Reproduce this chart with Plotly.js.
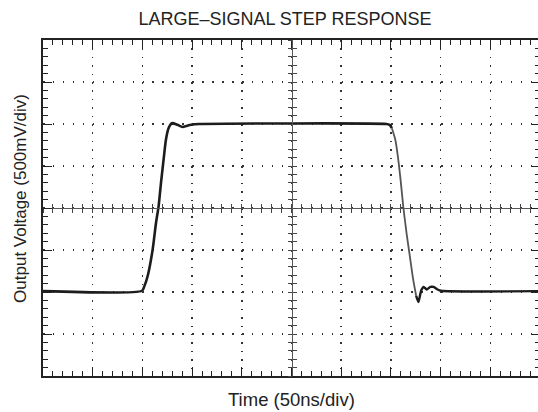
<!DOCTYPE html>
<html>
<head>
<meta charset="utf-8">
<script src="https://cdn.plot.ly/plotly-3.0.1.min.js"></script>
<style>
  html, body { margin: 0; padding: 0; overflow: hidden; background: #fff; }
  #chart { width: 548px; height: 412px; }
</style>
</head>
<body>
<div id="chart"></div>
<script>
// Time in ns (50 ns/div), output voltage in V (500 mV/div)
const timeNs = [0, 99.7, 102, 105.3, 110.3, 113.7, 116.3, 118.7, 121.3, 123.7, 126.3, 129.7, 135.3, 140.3, 145.3, 150.3, 157,
                345.4, 348.7, 351, 354.4, 357, 359.7, 362.4, 365.7, 369, 372.4, 375.4, 377.7, 380.4, 383, 386, 389.7, 393, 397, 400.4, 500];
const voltageV = [-0.99, -0.985, -0.93, -0.81, -0.495, -0.175, 0.02, 0.30, 0.575, 0.815, 0.95, 1.01, 0.99, 0.965, 0.98, 0.995, 1.0,
                  1.0, 0.99, 0.95, 0.815, 0.615, 0.34, 0.02, -0.295, -0.57, -0.85, -1.045, -1.12, -0.985, -0.94, -0.97, -0.94, -0.94, -0.97, -0.985, -0.99];

const titleText = "LARGE–SIGNAL STEP RESPONSE";
const xTitle = "Time (50ns/div)";
const yTitle = "Output Voltage (500mV/div)";

const xRange = [0, 500];
const yRange = [-2, 2];

const FONT = "Liberation Sans, Arial, Helvetica, sans-serif";
const INK = "#222222";

// the fast falling edge is drawn fainter, as on the scope
const fallStart = timeNs.indexOf(351);
const fallEnd = timeNs.indexOf(375.4);

const seg = (i0, i1, color, width) => ({
  x: timeNs.slice(i0, i1 + 1), y: voltageV.slice(i0, i1 + 1), type: "scatter", mode: "lines",
  line: { color: color, width: width, shape: "spline", smoothing: 0.6 },
  hoverinfo: "skip", showlegend: false
});
const traceA = seg(0, fallStart, "#1c1c1c", 2.6);
const traceB = seg(fallStart, fallEnd, "#555555", 1.8);
const traceC = seg(fallEnd, timeNs.length - 1, "#1c1c1c", 2.4);

const dummyX2 = { x: [], y: [], xaxis: "x2", yaxis: "y", type: "scatter", showlegend: false };
const dummyX3 = { x: [], y: [], xaxis: "x3", yaxis: "y", type: "scatter", showlegend: false };
const dummyY2 = { x: [], y: [], xaxis: "x", yaxis: "y2", type: "scatter", showlegend: false };
const dummyY3 = { x: [], y: [], xaxis: "x", yaxis: "y3", type: "scatter", showlegend: false };

const frameAxis = (range, dtick, minorDtick, gridDash) => ({
  range: range, dtick: dtick, tick0: range[0],
  showline: true, linecolor: INK, linewidth: 2, mirror: "ticks",
  ticks: "inside", ticklen: 9, tickwidth: 1, tickcolor: INK,
  minor: { dtick: minorDtick, tick0: range[0], ticks: "inside", ticklen: 5, tickwidth: 1, tickcolor: INK, showgrid: false },
  showgrid: true, gridcolor: "#333333", gridwidth: 1.5, griddash: gridDash,
  zeroline: false, showticklabels: false, fixedrange: true
});

const centerAxis = (base, range, dtick, minorDtick, tickDir) => ({
  overlaying: base, anchor: "free", position: 0.5, range: range, dtick: dtick, tick0: range[0],
  showline: true, linecolor: "#555555", linewidth: 1,
  ticks: tickDir, ticklen: 4, tickwidth: 1, tickcolor: "#444444",
  minor: { dtick: minorDtick, tick0: range[0], ticks: tickDir, ticklen: 4, tickwidth: 1, tickcolor: "#444444", showgrid: false },
  showgrid: false, zeroline: false, showticklabels: false, fixedrange: true
});

const layout = {
  width: 548, height: 412,
  margin: { l: 43, r: 8, t: 40, b: 36 },
  paper_bgcolor: "#ffffff", plot_bgcolor: "#ffffff",
  font: { family: FONT, color: INK, size: 17 },
  title: { text: titleText, font: { family: FONT, size: 18, color: INK },
           xref: "paper", x: 0.487, xanchor: "center", yref: "container", y: 0.955, yanchor: "middle" },
  xaxis: frameAxis(xRange, 50, 10, "1.5px,6.9px"),
  yaxis: frameAxis(yRange, 0.5, 0.1, "1.5px,8.45px"),
  xaxis2: centerAxis("x", xRange, 50, 10, "inside"),
  xaxis3: centerAxis("x", xRange, 50, 10, "outside"),
  yaxis2: centerAxis("y", yRange, 0.5, 0.1, "inside"),
  yaxis3: centerAxis("y", yRange, 0.5, 0.1, "outside"),
  annotations: [
    { text: xTitle, xref: "paper", yref: "paper", x: 0.5, y: -0.0714, xanchor: "center", yanchor: "middle",
      showarrow: false, font: { family: FONT, size: 18.5, color: INK } },
    { text: yTitle, xref: "paper", yref: "paper", x: -0.0443, y: 0.53, xanchor: "center", yanchor: "middle",
      textangle: -90, showarrow: false, font: { family: FONT, size: 17, color: INK } }
  ],
  showlegend: false
};

Plotly.newPlot("chart", [dummyX2, dummyX3, dummyY2, dummyY3, traceA, traceB, traceC], layout,
  { displayModeBar: false, staticPlot: true });
</script>
</body>
</html>
